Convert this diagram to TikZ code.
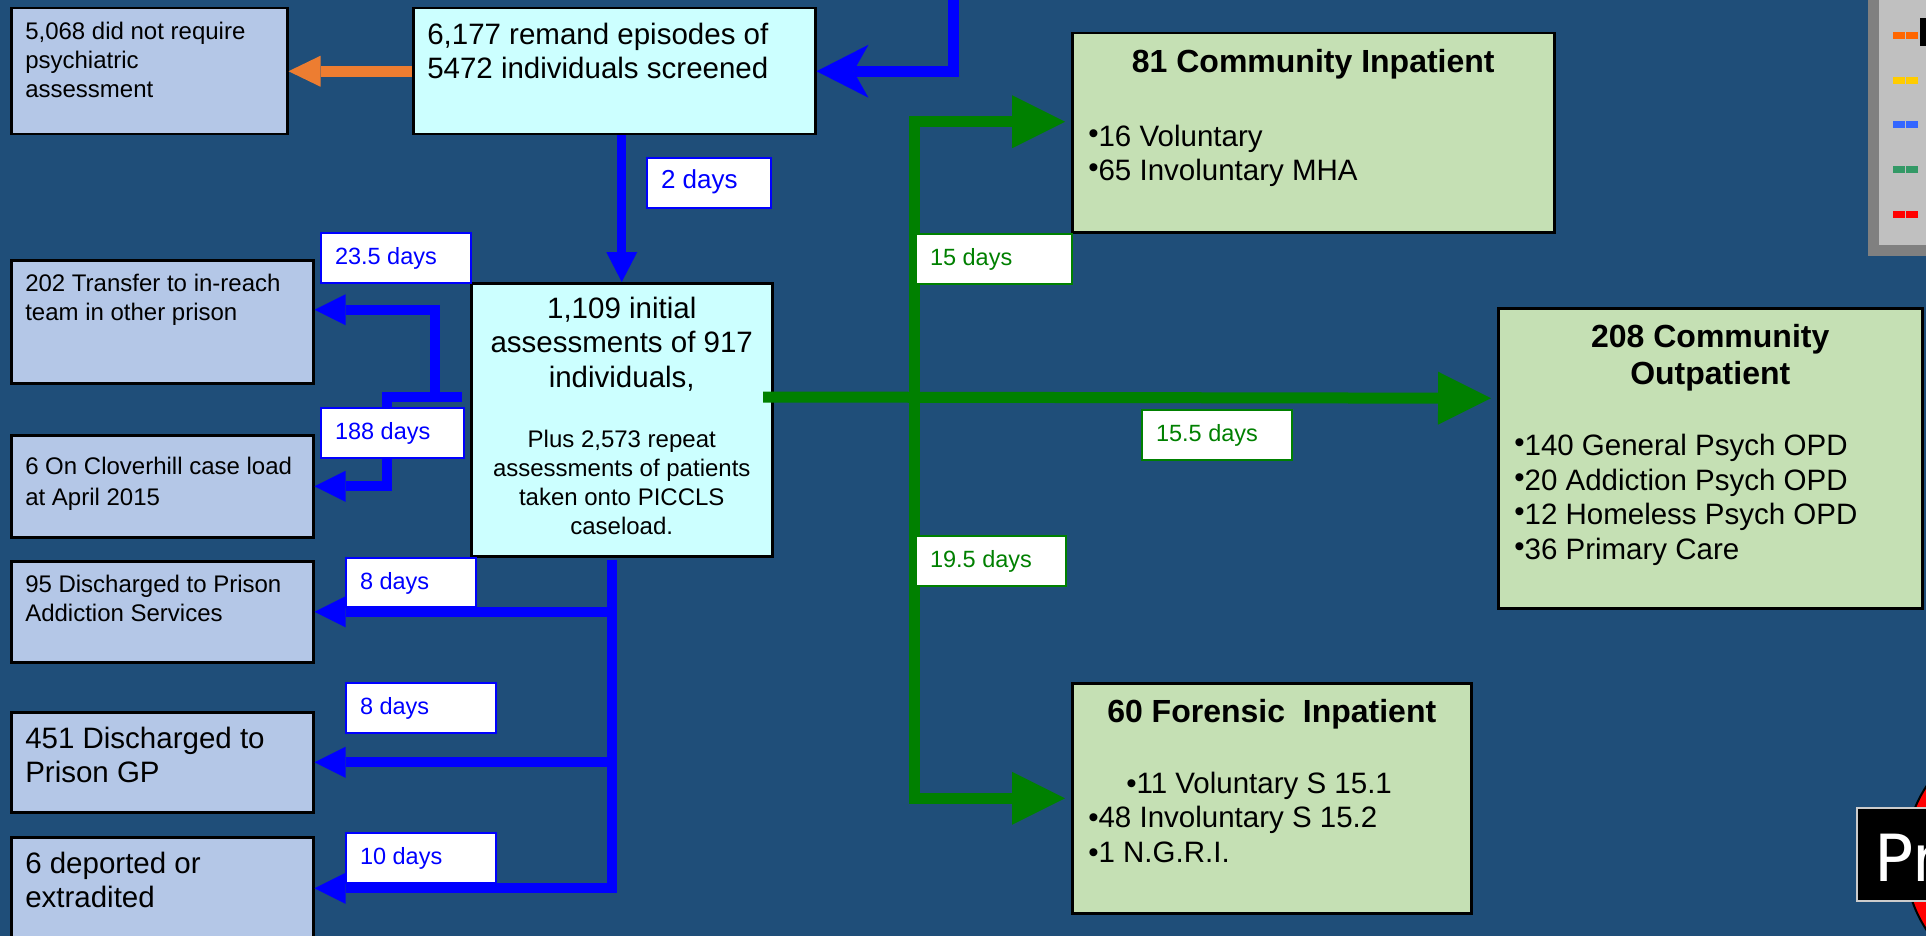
\documentclass[tikz,border=0pt]{standalone}
\usepackage{fontspec}
\setmainfont{Liberation Sans}
\newfontfamily\prfamily{DejaVu Sans}
\usetikzlibrary{arrows.meta}
\definecolor{bgblue}{RGB}{31,78,121}
\definecolor{boxgray}{RGB}{180,199,231}
\definecolor{boxcyan}{RGB}{204,255,255}
\definecolor{boxgreen}{RGB}{197,224,180}
\definecolor{arrblue}{RGB}{0,0,255}
\definecolor{arrorange}{RGB}{237,125,49}
\definecolor{arrgreen}{RGB}{0,128,0}
\definecolor{legorange}{RGB}{255,102,0}
\definecolor{legyellow}{RGB}{255,204,0}
\definecolor{legblue}{RGB}{51,102,255}
\definecolor{leggreen}{RGB}{51,153,102}
\definecolor{legred}{RGB}{255,0,0}
\definecolor{panelshade}{RGB}{128,128,128}
\definecolor{panelgray}{RGB}{192,192,192}
\newcommand{\fsmall}{\fontsize{24}{29}\selectfont}
\newcommand{\fbig}{\fontsize{29.5}{34.5}\selectfont}
\newcommand{\ftitle}{\fontsize{32}{37}\selectfont\bfseries}
\newcommand{\flabel}{\fontsize{23.5}{28}\selectfont}
\newcommand{\ctr}[1]{\makebox[\linewidth][c]{#1}}
\newcommand{\rbul}{\raisebox{3pt}{•}}

\begin{document}
\begin{tikzpicture}[x=1pt,y=-1pt,
  sbox/.style={draw=black,line width=2.5pt,anchor=north west,inner xsep=14pt,inner ysep=0pt,align=flush left},
  gbox/.style={sbox,fill=boxgray},
  cbox/.style={sbox,fill=boxcyan},
  obox/.style={sbox,fill=boxgreen,inner xsep=16pt},
  dlabel/.style={draw=#1,text=#1,fill=white,line width=2pt,anchor=north west,inner xsep=14pt,inner ysep=0pt,align=flush left,text height=31pt,text depth=19pt,font=\flabel},
  barr/.style={arrblue,line width=10pt,-{Triangle[length=31pt,width=31pt,line width=0pt]}},
  garr/.style={arrgreen,line width=11pt,shorten >=6pt,-{Triangle[length=53pt,width=53pt,line width=0pt]}}]
  \useasboundingbox (0,0) rectangle (1926,936);
  \clip (0,0) rectangle (1926,936);
  \fill[bgblue] (0,0) rectangle (1926,936);
  % Screening and initial assessment
  \node[cbox,text width=374pt,text height=36pt,text depth=90pt,font=\fbig] (screen) at (412,7) {6,177 remand episodes of\\5472 individuals screened};
  \node[gbox,text width=248pt,text height=31pt,text depth=95pt,font=\fsmall] (nopsych) at (10,7) {5,068 did not require\\psychiatric\\assessment};
  \node[cbox,align=flush center,text width=273pt,text height=35pt,text depth=238pt,font=\fbig] (initial) at (470,282) {1,109 initial\\assessments of 917\\individuals,\\[31pt]\fsmall Plus 2,573 repeat\\assessments of patients\\taken onto PICCLS\\caseload.\par};
  % Prison outcomes
  \node[gbox,text width=274pt,text height=31pt,text depth=92pt,font=\fsmall] (transfer) at (10,259) {202 Transfer to in-reach\\team in other prison};
  \node[gbox,text width=274pt,text height=39pt,text depth=63pt,font=\fsmall] (caseload) at (10,434) {6 On Cloverhill case load\\[2pt]at April 2015};
  \node[gbox,text width=274pt,text height=31pt,text depth=70pt,font=\fsmall] (addict) at (10,560) {95 Discharged to Prison\\Addiction Services};
  \node[gbox,text width=274pt,text height=36pt,text depth=64pt,font=\fbig] (prisongp) at (10,711) {451 Discharged to\\Prison GP};
  \node[gbox,text width=274pt,text height=36pt,text depth=66pt,font=\fbig] (deport) at (10,836) {6 deported or\\extradited};
  % Community and forensic outcomes
  \node[obox,text width=450pt,text height=39pt,text depth=160pt,font=\fbig] (inpat) at (1071,32) {\ctr{\ftitle 81 Community Inpatient}\\[39.5pt]\rbul16 Voluntary\\\rbul65 Involuntary MHA};
  \node[obox,text width=392pt,text height=39pt,text depth=261pt,font=\fbig] (outpat) at (1497,307) {\ctr{\ftitle 208 Community}\\[2.5pt]\ctr{\ftitle Outpatient}\\[37pt]\rbul140 General Psych OPD\\\rbul20 Addiction Psych OPD\\\rbul12 Homeless Psych OPD\\\rbul36 Primary Care};
  \node[obox,text width=367pt,text height=39pt,text depth=191pt,font=\fbig] (forens) at (1071,682) {\ctr{\ftitle 60 Forensic\ \ Inpatient}\\[36.5pt]\hspace*{38pt}•11 Voluntary S 15.1\\•48 Involuntary S 15.2\\•1 N.G.R.I.};
  % Flow into and out of screening
  \coordinate (feed) at (953,-10);
  \draw[arrblue,line width=11pt,-{Stealth[length=52pt,width=53pt,inset=15pt,line width=0pt]}] (feed) |- (screen.east);
  \draw[arrorange,line width=11pt,-{Triangle[length=32pt,width=31pt,line width=0pt]}] (screen.west) -- (nopsych.east);
  \draw[arrblue,line width=9pt,-{Triangle[length=30pt,width=31pt,line width=0pt]}] (initial.north |- screen.south) -- (initial.north);
  % Transfers and case load
  \coordinate (split) at (462,397);
  \coordinate (upbend) at (435,397);
  \coordinate (downbend) at (387,397);
  \draw[barr] (split) -- (upbend) |- ([yshift=12pt]transfer.east);
  \draw[barr] (split) -- (downbend) |- (caseload.east);
  % Discharges
  \coordinate (drop) at (612,560);
  \draw[barr] (drop) |- (addict.east);
  \draw[barr] (drop) |- (prisongp.east);
  \draw[barr] (drop) |- (deport.east);
  % Community links
  \coordinate (gstart) at (763,397);
  \coordinate (gfork) at (914,397);
  \draw[garr] (gstart) -- ([yshift=60pt]outpat.west);
  \draw[garr] (gfork) |- ([yshift=11pt]inpat.west);
  \draw[garr] (gfork) |- (forens.west);
  % Waiting times
  \node[dlabel=arrblue,text width=96pt,font=\fontsize{26}{30}\selectfont] (lbl2) at (646,157) {2 days};
  \node[dlabel=arrblue,text width=122pt] (lbl235) at (320,232) {23.5 days};
  \node[dlabel=arrblue,text width=115pt] (lbl188) at (320,407) {188 days};
  \node[dlabel=arrblue,text width=102pt,text depth=18pt] (lbl8a) at (345,557) {8 days};
  \node[dlabel=arrblue,text width=122pt] (lbl8b) at (345,682) {8 days};
  \node[dlabel=arrblue,text width=122pt] (lbl10) at (345,832) {10 days};
  \node[dlabel=arrgreen,text width=128pt] (lbl15) at (915,233) {15 days};
  \node[dlabel=arrgreen,text width=122pt] (lbl195) at (915,535) {19.5 days};
  \node[dlabel=arrgreen,text width=122pt] (lbl155) at (1141,409) {15.5 days};
  % Legend panel
  \fill[panelshade] (1868,0) rectangle (1926,256);
  \fill[panelgray] (1879,0) rectangle (1926,245);
  \fill[black] (1920,18) rectangle (1926,46);
  \foreach \c [count=\i from 0] in {legorange,legyellow,legblue,leggreen,legred}
    \draw[\c,line width=7pt,dash pattern=on 12pt off 1pt] (1893,{35.5+44.75*\i}) -- (1918,{35.5+44.75*\i});
  % Button
  \filldraw[fill=red,draw=black,line width=2pt] (2036,858) circle[radius=131];
  \node[fill=black,draw=white!80!black,line width=2pt,text=white,anchor=north west,inner xsep=17pt,inner ysep=0pt,text width=200pt,align=flush left,text height=73pt,text depth=20pt,font=\prfamily\fontsize{65}{70}\selectfont] (prbtn) at (1856,807) {Pr};
\end{tikzpicture}
\end{document}
